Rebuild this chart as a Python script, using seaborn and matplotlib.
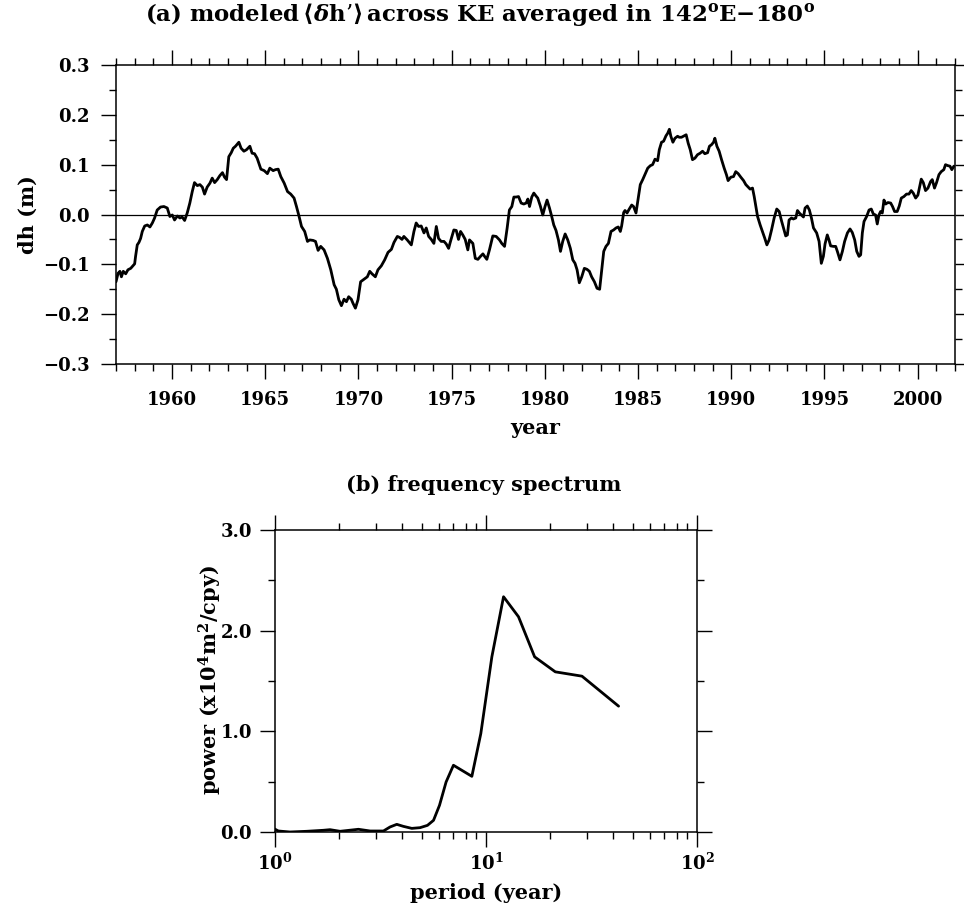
import matplotlib
matplotlib.use("Agg")
import matplotlib.pyplot as plt
import seaborn as sns
import pandas as pd
from matplotlib.ticker import MultipleLocator, FixedLocator, FuncFormatter, NullFormatter

# ---------------- data: panel (a) ----------------
years_a = [
    1957.00, 1957.11, 1957.21, 1957.29, 1957.39, 1957.52, 1957.64, 1957.79, 1957.88, 1958.00,
    1958.05, 1958.14, 1958.23, 1958.32, 1958.41, 1958.54, 1958.68, 1958.82, 1958.95, 1959.07,
    1959.21, 1959.39, 1959.57, 1959.75, 1959.89, 1960.02, 1960.14, 1960.29, 1960.43, 1960.55,
    1960.68, 1960.82, 1960.96, 1961.09, 1961.21, 1961.36, 1961.50, 1961.63, 1961.75, 1961.89,
    1962.04, 1962.16, 1962.29, 1962.43, 1962.57, 1962.71, 1962.82, 1962.93, 1963.05, 1963.18,
    1963.29, 1963.41, 1963.59, 1963.71, 1963.86, 1964.00, 1964.18, 1964.30, 1964.43, 1964.57,
    1964.66, 1964.77, 1964.95, 1965.12, 1965.25, 1965.43, 1965.55, 1965.70, 1965.84, 1966.02,
    1966.20, 1966.37, 1966.55, 1966.68, 1966.80, 1966.95, 1967.12, 1967.27, 1967.39, 1967.57,
    1967.70, 1967.84, 1967.98, 1968.16, 1968.34, 1968.52, 1968.70, 1968.82, 1968.95, 1969.09,
    1969.23, 1969.36, 1969.48, 1969.62, 1969.71, 1969.84, 1969.98, 1970.12, 1970.30, 1970.48,
    1970.61, 1970.73, 1970.91, 1971.05, 1971.23, 1971.41, 1971.59, 1971.77, 1971.91, 1972.09,
    1972.21, 1972.34, 1972.44, 1972.62, 1972.84, 1972.98, 1973.10, 1973.23, 1973.37, 1973.52,
    1973.64, 1973.77, 1973.91, 1974.05, 1974.18, 1974.30, 1974.44, 1974.59, 1974.71, 1974.84,
    1974.94, 1975.12, 1975.25, 1975.37, 1975.48, 1975.60, 1975.73, 1975.87, 1975.96, 1976.14,
    1976.27, 1976.41, 1976.55, 1976.68, 1976.77, 1976.89, 1977.03, 1977.21, 1977.39, 1977.57,
    1977.69, 1977.84, 1977.98, 1978.10, 1978.23, 1978.34, 1978.46, 1978.59, 1978.73, 1978.87,
    1979.00, 1979.09, 1979.18, 1979.30, 1979.41, 1979.53, 1979.62, 1979.76, 1979.89, 1980.01,
    1980.12, 1980.25, 1980.37, 1980.48, 1980.60, 1980.73, 1980.84, 1980.96, 1981.09, 1981.23,
    1981.37, 1981.50, 1981.62, 1981.73, 1981.85, 1981.98, 1982.12, 1982.26, 1982.39, 1982.51,
    1982.66, 1982.80, 1982.94, 1983.05, 1983.16, 1983.28, 1983.41, 1983.55, 1983.69, 1983.82,
    1983.94, 1984.05, 1984.12, 1984.23, 1984.30, 1984.41, 1984.53, 1984.66, 1984.76, 1984.89,
    1985.01, 1985.12, 1985.25, 1985.37, 1985.52, 1985.66, 1985.78, 1985.91, 1986.05, 1986.14,
    1986.26, 1986.37, 1986.50, 1986.59, 1986.68, 1986.76, 1986.87, 1986.98, 1987.12, 1987.21,
    1987.33, 1987.48, 1987.58, 1987.69, 1987.80, 1987.92, 1988.05, 1988.19, 1988.33, 1988.46,
    1988.58, 1988.73, 1988.83, 1988.94, 1989.05, 1989.12, 1989.23, 1989.35, 1989.48, 1989.62,
    1989.74, 1989.83, 1989.98, 1990.12, 1990.24, 1990.37, 1990.51, 1990.66, 1990.78, 1990.91,
    1991.01, 1991.14, 1991.23, 1991.32, 1991.41, 1991.55, 1991.67, 1991.80, 1991.91, 1992.03,
    1992.16, 1992.30, 1992.44, 1992.57, 1992.69, 1992.80, 1992.92, 1993.01, 1993.10, 1993.23,
    1993.33, 1993.46, 1993.55, 1993.65, 1993.76, 1993.87, 1993.96, 1994.08, 1994.19, 1994.30,
    1994.41, 1994.58, 1994.71, 1994.83, 1994.94, 1995.03, 1995.15, 1995.24, 1995.33, 1995.48,
    1995.60, 1995.69, 1995.83, 1995.96, 1996.08, 1996.23, 1996.37, 1996.49, 1996.62, 1996.73,
    1996.85, 1996.94, 1997.03, 1997.12, 1997.26, 1997.39, 1997.51, 1997.62, 1997.74, 1997.83,
    1997.92, 1998.01, 1998.10, 1998.19, 1998.28, 1998.40, 1998.55, 1998.65, 1998.76, 1998.90,
    1999.01, 1999.12, 1999.26, 1999.40, 1999.53, 1999.65, 1999.76, 1999.89, 2000.01, 2000.12,
    2000.19, 2000.30, 2000.42, 2000.55, 2000.69, 2000.78, 2000.90, 2001.01, 2001.14, 2001.26,
    2001.40, 2001.49, 2001.62, 2001.73, 2001.83, 2001.94,
]
dh_a = [
    -0.135, -0.118, -0.114, -0.125, -0.114, -0.119, -0.111, -0.108, -0.104, -0.099,
    -0.084, -0.061, -0.056, -0.048, -0.034, -0.023, -0.021, -0.025, -0.017, -0.007,
    0.009, 0.015, 0.016, 0.013, -0.004, -0.001, -0.011, -0.003, -0.007, -0.005,
    -0.012, 0.003, 0.023, 0.046, 0.064, 0.058, 0.060, 0.055, 0.041, 0.055,
    0.063, 0.073, 0.064, 0.070, 0.078, 0.084, 0.075, 0.070, 0.116, 0.124,
    0.133, 0.137, 0.145, 0.133, 0.127, 0.130, 0.137, 0.123, 0.122, 0.113,
    0.103, 0.091, 0.088, 0.082, 0.093, 0.088, 0.090, 0.091, 0.076, 0.063,
    0.046, 0.041, 0.033, 0.016, -0.001, -0.024, -0.034, -0.054, -0.051, -0.052,
    -0.054, -0.072, -0.064, -0.071, -0.088, -0.111, -0.141, -0.150, -0.171, -0.183,
    -0.170, -0.175, -0.165, -0.170, -0.178, -0.188, -0.171, -0.135, -0.130, -0.125,
    -0.114, -0.119, -0.125, -0.111, -0.103, -0.091, -0.076, -0.070, -0.056, -0.044,
    -0.046, -0.050, -0.044, -0.051, -0.061, -0.034, -0.017, -0.024, -0.023, -0.037,
    -0.027, -0.044, -0.050, -0.058, -0.024, -0.048, -0.054, -0.054, -0.059, -0.068,
    -0.054, -0.031, -0.032, -0.050, -0.034, -0.041, -0.050, -0.071, -0.051, -0.058,
    -0.088, -0.090, -0.084, -0.079, -0.084, -0.090, -0.071, -0.043, -0.044, -0.051,
    -0.058, -0.064, -0.027, 0.009, 0.016, 0.035, 0.035, 0.036, 0.023, 0.021,
    0.023, 0.031, 0.016, 0.035, 0.043, 0.037, 0.033, 0.017, -0.001, 0.016,
    0.029, 0.013, -0.004, -0.021, -0.032, -0.051, -0.074, -0.054, -0.039, -0.051,
    -0.068, -0.091, -0.098, -0.111, -0.137, -0.125, -0.108, -0.110, -0.114, -0.125,
    -0.135, -0.148, -0.150, -0.111, -0.074, -0.064, -0.058, -0.034, -0.031, -0.027,
    -0.025, -0.034, -0.023, 0.004, 0.008, 0.003, 0.011, 0.019, 0.016, 0.003,
    0.033, 0.060, 0.070, 0.080, 0.093, 0.098, 0.100, 0.111, 0.108, 0.130,
    0.145, 0.147, 0.158, 0.163, 0.171, 0.157, 0.145, 0.153, 0.157, 0.155,
    0.155, 0.158, 0.160, 0.143, 0.130, 0.110, 0.113, 0.120, 0.123, 0.127,
    0.122, 0.124, 0.137, 0.140, 0.145, 0.153, 0.137, 0.127, 0.110, 0.093,
    0.080, 0.068, 0.075, 0.076, 0.086, 0.082, 0.075, 0.068, 0.060, 0.055,
    0.051, 0.053, 0.036, 0.016, -0.004, -0.021, -0.034, -0.048, -0.061, -0.051,
    -0.031, -0.007, 0.011, 0.006, -0.012, -0.027, -0.043, -0.041, -0.011, -0.007,
    -0.009, -0.007, 0.008, 0.003, -0.001, -0.005, 0.013, 0.017, 0.009, -0.007,
    -0.027, -0.037, -0.054, -0.098, -0.084, -0.059, -0.041, -0.051, -0.063, -0.064,
    -0.064, -0.074, -0.091, -0.074, -0.054, -0.037, -0.029, -0.036, -0.051, -0.074,
    -0.084, -0.081, -0.037, -0.014, -0.004, 0.009, 0.011, 0.001, -0.001, -0.019,
    -0.001, 0.006, 0.003, 0.029, 0.021, 0.024, 0.023, 0.016, 0.006, 0.006,
    0.017, 0.033, 0.036, 0.041, 0.041, 0.048, 0.043, 0.033, 0.039, 0.058,
    0.071, 0.064, 0.048, 0.053, 0.066, 0.070, 0.053, 0.064, 0.080, 0.086,
    0.090, 0.100, 0.098, 0.097, 0.090, 0.097,
]

# ---------------- data: panel (b) ----------------
period_b = [0.99, 1.037, 1.178, 1.413, 1.695, 1.823, 2.034, 2.485, 2.824, 3.265,
            3.51, 3.777, 4.06, 4.45, 4.87, 5.28, 5.64, 6.02, 6.47, 7.01,
            8.57, 9.45, 10.66, 12.11, 14.26, 17.0, 21.3, 28.5, 42.5]
power_b = [0.033, 0.010, 0.000, 0.007, 0.017, 0.023, 0.007, 0.027, 0.010, 0.010,
           0.050, 0.076, 0.056, 0.036, 0.043, 0.066, 0.116, 0.265, 0.497, 0.663,
           0.553, 0.978, 1.74, 2.337, 2.138, 1.74, 1.591, 1.548, 1.250]

title_a = (r"(a) modeled$\,\langle\mathit{\delta}$h’$\rangle\,$across KE averaged in "
           r"142$^{\rm o}$E$-$180$^{\rm o}$")
title_b = "(b) frequency spectrum"
xlabel_a, ylabel_a = "year", "dh (m)"
xlabel_b, ylabel_b = "period (year)", r"power (x10$^4$m$^2$/cpy)"

# ---------------- style ----------------
sns.set_theme(style="ticks")
plt.rcParams["font.family"] = ["DejaVu Serif"]
plt.rcParams["font.weight"] = "bold"
plt.rcParams["mathtext.fontset"] = "dejavuserif"
plt.rcParams["mathtext.default"] = "bf"
plt.rcParams["axes.unicode_minus"] = True
for k in ("text.color", "axes.labelcolor", "xtick.color", "ytick.color", "axes.edgecolor"):
    plt.rcParams[k] = "black"

W, H = 964, 911
fig = plt.figure(figsize=(W / 100, H / 100), dpi=100)

def fx(px):
    return px / W

def fy(py):
    return 1 - py / H

ax1 = fig.add_axes([fx(116), fy(364), fx(955) - fx(116), fy(65) - fy(364)])
ax2 = fig.add_axes([fx(275), fy(832), fx(697) - fx(275), fy(530) - fy(832)])

df_a = pd.DataFrame({"year": years_a, "dh": dh_a})
df_b = pd.DataFrame({"period": period_b, "power": power_b})

sns.lineplot(data=df_a, x="year", y="dh", ax=ax1, color="black", lw=2.0,
             sort=False, estimator=None)
ax1.axhline(0, color="black", lw=0.9, zorder=1)
sns.lineplot(data=df_b, x="period", y="power", ax=ax2, color="black", lw=2.0,
             sort=False, estimator=None)


def fmt1(v, p):
    if abs(v) < 1e-9:
        v = 0.0
    return f"{v:.1f}".replace("-", "\u2212")


for ax in (ax1, ax2):
    for s in ax.spines.values():
        s.set_visible(True)
        s.set_color("black")
        s.set_linewidth(1.1)
    ax.tick_params(which="major", direction="out", length=10.5, width=1.0,
                   top=True, right=True, labelsize=13, colors="black")
    ax.tick_params(which="minor", direction="out", length=5, width=1.0,
                   top=True, right=True)
    ax.set_xlabel("")
    ax.set_ylabel("")
    ax.grid(False)

ax1.tick_params(axis="y", which="major", pad=8.5)
ax1.tick_params(axis="x", which="major", pad=9)
ax2.tick_params(axis="y", which="major", pad=6)
ax2.tick_params(axis="x", which="major", pad=4)

ax1.set_xlim(1957, 2002)
ax1.set_ylim(-0.3, 0.3)
ax1.xaxis.set_major_locator(MultipleLocator(5))
ax1.xaxis.set_minor_locator(MultipleLocator(1))
ax1.yaxis.set_major_locator(MultipleLocator(0.1))
ax1.yaxis.set_minor_locator(MultipleLocator(0.05))
ax1.yaxis.set_major_formatter(FuncFormatter(fmt1))
ax1.xaxis.set_major_formatter(FuncFormatter(lambda v, p: f"{int(round(v))}"))

ax2.set_xscale("log")
ax2.set_xlim(1, 100)
ax2.set_ylim(0, 3.0)
ax2.xaxis.set_major_locator(FixedLocator([1, 10, 100]))
ax2.xaxis.set_minor_locator(FixedLocator([m * d for d in (1, 10) for m in range(2, 10)]))
ax2.xaxis.set_major_formatter(FuncFormatter(lambda v, p: {1: r"$10^0$", 10: r"$10^1$", 100: r"$10^2$"}.get(int(round(v)), "")))
ax2.xaxis.set_minor_formatter(NullFormatter())
ax2.yaxis.set_major_locator(MultipleLocator(1.0))
ax2.yaxis.set_minor_locator(MultipleLocator(0.5))
ax2.yaxis.set_major_formatter(FuncFormatter(fmt1))

fs = 15
fig.text(fx(480), fy(15), title_a, ha="center", va="center", fontsize=16.5, fontweight="bold")
fig.text(fx(484), fy(485), title_b, ha="center", va="center", fontsize=fs, fontweight="bold")
fig.text(fx(535), fy(428), xlabel_a, ha="center", va="center", fontsize=fs, fontweight="bold")
fig.text(fx(28), fy(215), ylabel_a, ha="center", va="center", rotation=90, fontsize=fs, fontweight="bold")
fig.text(fx(486), fy(893), xlabel_b, ha="center", va="center", fontsize=fs, fontweight="bold")
fig.text(fx(210), fy(680), ylabel_b, ha="center", va="center", rotation=90, fontsize=fs, fontweight="bold")

fig.savefig("out.png", dpi=100, facecolor="white")
